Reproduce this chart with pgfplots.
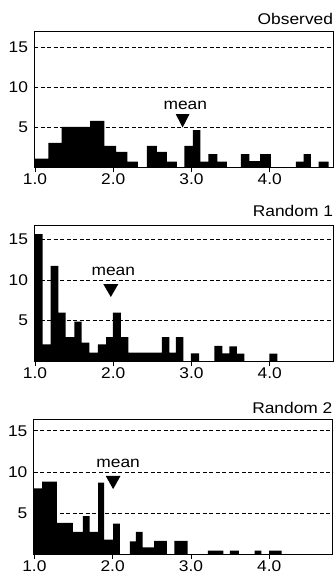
\documentclass[border=0pt]{standalone}
\usepackage{fontspec}
\setmainfont{Liberation Sans}[FakeStretch=1.12]
\usepackage{pgfplots}
\pgfplotsset{compat=1.18}
\newcommand{\lblfont}{\fontsize{15.5bp}{18bp}\selectfont}
\pgfplotsset{panel/.style={
  scale only axis, width=299bp, height=135.5bp,
  anchor=south west, clip=false,
  xmin=0.99, xmax=4.81, ymin=0,
  axis line style={line width=1bp},
  xtick={1,2,3,4}, xticklabels={1.0,2.0,3.0,4.0},
  ytick={5,10,15},
  xtick pos=lower, ytick pos=left,
  ymajorgrids,
  major grid style={dash pattern=on 4bp off 2.5bp, line width=0.7bp, black},
  tick align=outside, major tick length=5bp,
  xtick style={line width=0.8bp, black},
  ytick style={draw=none},
  tick label style={font=\lblfont},
  /pgf/number format/assume math mode=true,
  xticklabel style={inner sep=1bp},
  yticklabel style={inner sep=1bp},
}}
\begin{document}
\begin{tikzpicture}
\path[use as bounding box] (0bp,0bp) rectangle (335bp,575bp);

% Observed
\begin{axis}[panel, at={(34.2bp,407.5bp)}, height=135.8bp, ymax=16.9]
\addplot[fill=black, draw=none, const plot] coordinates {
(0.99,1.1)(1.170,3.05)(1.341,5.05)(1.703,5.8)(1.886,2.7)(2.036,1.95)(2.180,0.72)
(2.313,0)(2.428,2.7)(2.556,1.95)(2.684,0.72)(2.812,0)(2.909,2.7)(3.017,4.65)
(3.114,0.72)(3.216,1.67)(3.331,0.72)(3.451,0)(3.630,1.67)(3.740,0.8)(3.877,1.67)
(4.014,0)(4.334,0.72)(4.431,1.67)(4.526,0)(4.623,0.72)(4.750,0.72)} \closedcycle;
\addplot[fill=black, draw=none] coordinates {(2.799,6.63)(2.973,6.63)(2.886,4.98)} --cycle;
\node[anchor=base, font=\lblfont] at (axis cs:2.92,7.16) {mean};
\node[anchor=base east, font=\lblfont, yshift=7bp, inner sep=0pt] at (rel axis cs:1,1) {Observed};
\end{axis}

% Random 1
\begin{axis}[panel, at={(34.2bp,213.5bp)}, height=135.5bp, ymax=16.6]
\addplot[fill=black, draw=none, const plot] coordinates {
(0.99,15.6)(1.098,2.1)(1.201,11.7)(1.298,6.0)(1.393,3.0)(1.503,4.9)(1.597,2.3)
(1.694,1.1)(1.802,2.1)(1.908,3.0)(1.994,6.0)(2.096,3.0)(2.193,1.1)(2.620,3.0)
(2.717,1.1)(2.799,3.0)(2.896,0)(2.991,1.0)(3.097,0)(3.293,1.9)(3.395,1.0)
(3.485,1.85)(3.579,0.95)(3.676,0)(3.996,0.95)(4.098,0.95)} \closedcycle;
\addplot[fill=black, draw=none] coordinates {(1.873,9.48)(2.064,9.48)(1.969,7.9)} --cycle;
\node[anchor=base, font=\lblfont] at (axis cs:2.0,10.5) {mean};
\node[anchor=base east, font=\lblfont, yshift=9bp, inner sep=0pt] at (rel axis cs:1,1) {Random 1};
\end{axis}

% Random 2
\begin{axis}[panel, at={(33.6bp,21bp)}, height=134.7bp, ymax=16.4]
\addplot[fill=black, draw=none, const plot] coordinates {
(0.99,8.0)(1.099,8.8)(1.287,3.8)(1.492,2.7)(1.620,4.6)(1.706,2.7)(1.813,8.7)
(1.891,1.75)(2.006,3.7)(2.092,0)(2.220,1.55)(2.298,2.7)(2.384,0.8)(2.529,1.6)
(2.692,0)(2.787,1.6)(2.958,0)(3.215,0.4)(3.413,0)(3.497,0.4)(3.613,0)
(3.815,0.4)(3.901,0)(3.999,0.4)(4.158,0.4)} \closedcycle;
\addplot[fill=black, draw=none] coordinates {(1.912,9.5)(2.10,9.5)(2.006,7.9)} --cycle;
\node[anchor=base, font=\lblfont] at (axis cs:2.07,10.5) {mean};
\node[anchor=base east, font=\lblfont, yshift=6bp, inner sep=0pt] at (rel axis cs:1,1) {Random 2};
\end{axis}
\end{tikzpicture}
\end{document}
